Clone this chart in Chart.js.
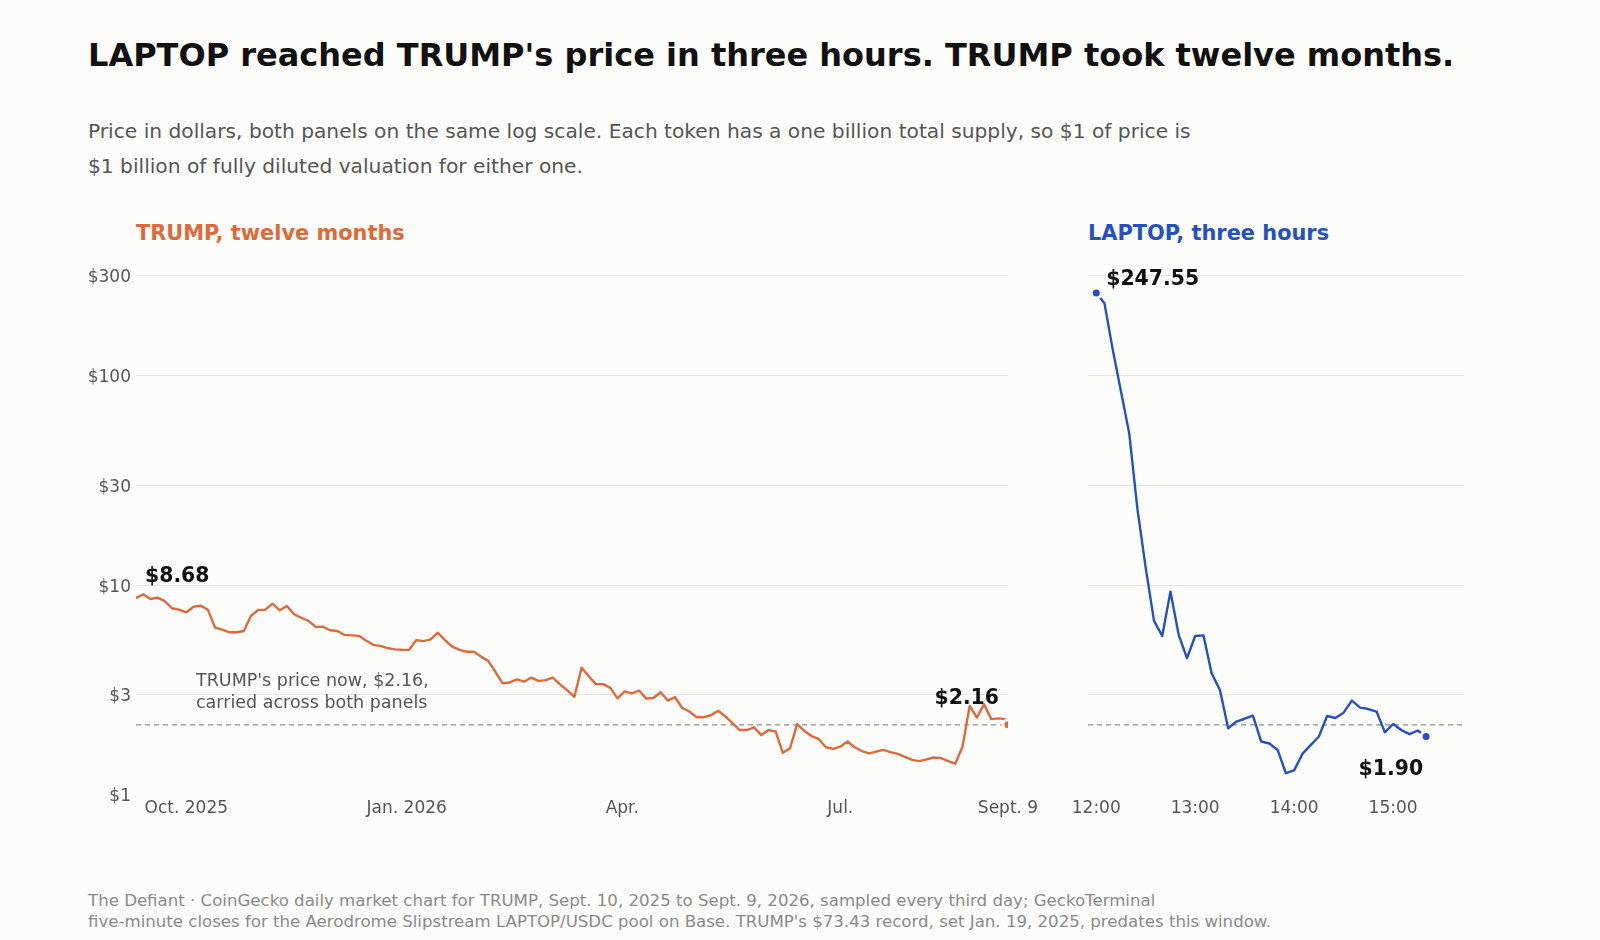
<!DOCTYPE html>
<html>
<head>
<meta charset="utf-8">
<script src="https://cdn.jsdelivr.net/npm/chart.js@4.4.1/dist/chart.umd.min.js"></script>
<style>
  html, body { margin: 0; padding: 0; background: #fcfcfa; }
  body { width: 1600px; height: 940px; position: relative; overflow: hidden; font-family: "DejaVu Sans", sans-serif; }
  .txt { position: absolute; left: 88px; white-space: nowrap; }
  #title { top: 37px; font-size: 32px; line-height: 36px; font-weight: bold; color: #111; }
  #subtitle { top: 114px; font-size: 20.2px; line-height: 34.6px; color: #555; }
  .panel { top: 221px; font-size: 20.9px; line-height: 24px; font-weight: bold; }
  #footer { top: 890px; font-size: 16.6px; line-height: 21px; color: #8a8a8a; }
  canvas { position: absolute; top: 240px; }
</style>
</head>
<body>
<div id="title" class="txt">LAPTOP reached TRUMP's price in three hours. TRUMP took twelve months.</div>
<div id="subtitle" class="txt">Price in dollars, both panels on the same log scale. Each token has a one billion total supply, so $1 of price is<br>$1 billion of fully diluted valuation for either one.</div>
<div class="txt panel" style="left:136px;color:#dc6a3b">TRUMP, twelve months</div>
<div class="txt panel" style="left:1088px;color:#2450c2">LAPTOP, three hours</div>
<canvas id="trump" width="1050" height="600" style="left:0"></canvas>
<canvas id="laptop" width="460" height="600" style="left:1040px"></canvas>
<div id="footer" class="txt">The Defiant · CoinGecko daily market chart for TRUMP, Sept. 10, 2025 to Sept. 9, 2026, sampled every third day; GeckoTerminal<br>five-minute closes for the Aerodrome Slipstream LAPTOP/USDC pool on Base. TRUMP's $73.43 record, set Jan. 19, 2025, predates this window.</div>
<script>
// TRUMP, one close every third day from Sept. 10, 2025
const trumpPrices = [
  8.68, 9.06, 8.60, 8.73, 8.40, 7.77, 7.65, 7.43, 7.90, 8.00,
  7.65, 6.28, 6.14, 5.97, 5.97, 6.05, 7.16, 7.62, 7.65, 8.17,
  7.60, 7.97, 7.27, 7.00, 6.76, 6.33, 6.35, 6.10, 6.05, 5.80,
  5.77, 5.74, 5.45, 5.20, 5.14, 5.02, 4.95, 4.93, 4.92, 5.48,
  5.42, 5.52, 5.94, 5.48, 5.10, 4.92, 4.82, 4.82, 4.57, 4.36,
  3.87, 3.41, 3.44, 3.56, 3.47, 3.63, 3.50, 3.53, 3.63, 3.37,
  3.16, 2.94, 4.05, 3.68, 3.38, 3.38, 3.24, 2.89, 3.12, 3.05,
  3.15, 2.88, 2.90, 3.09, 2.82, 2.93, 2.60, 2.50, 2.35, 2.35,
  2.40, 2.52, 2.37, 2.20, 2.04, 2.04, 2.10, 1.93, 2.04, 2.01,
  1.59, 1.67, 2.18, 2.02, 1.91, 1.85, 1.69, 1.66, 1.70, 1.80,
  1.69, 1.62, 1.58, 1.61, 1.64, 1.60, 1.57, 1.52, 1.47, 1.45,
  1.48, 1.51, 1.50, 1.45, 1.41, 1.70, 2.66, 2.34, 2.71, 2.30,
  2.32, 2.30
];
const trumpNow = 2.16;
const trumpNowDay = 364;
const trumpTickDays = [21, 113, 203, 294, 364];
const trumpTickLabels = ["Oct. 2025", "Jan. 2026", "Apr.", "Jul.", "Sept. 9"];

// LAPTOP, five-minute closes from 12:00
const laptopPrices = [
  247.55, 221, 133, 84, 53, 23, 12.1, 6.78, 5.73, 9.33,
  5.80, 4.49, 5.73, 5.77, 3.80, 3.17, 2.08, 2.24, 2.31, 2.39,
  1.80, 1.76, 1.64, 1.27, 1.31, 1.57, 1.73, 1.90, 2.38, 2.33,
  2.47, 2.82, 2.61, 2.57, 2.50, 1.99, 2.18, 2.04, 1.95, 2.03,
  1.90
];
const laptopTickMinutes = [0, 60, 120, 180];
const laptopTickLabels = ["12:00", "13:00", "14:00", "15:00"];

const priceTicks = [1, 3, 10, 30, 100, 300];

const ORANGE = "#dc6a3b";
const BLUE = "#2450c2";
const BG = "#fcfcfa";

const trumpDays = trumpPrices.map((p, i) => i * 3);
const laptopMinutes = laptopPrices.map((p, i) => i * 5);

Chart.defaults.font.family = "'DejaVu Sans', sans-serif";

function priceAxis(showLabels, width) {
    return {
        type: "logarithmic",
        min: 1,
        max: 300,
        afterBuildTicks: (s) => { s.ticks = priceTicks.map((v) => ({value: v})); },
        afterFit: (s) => { s.width = width; s.paddingTop = 0; s.paddingBottom = 0; },
        border: {display: false},
        grid: {
            color: (c) => (c.tick && c.tick.value === 1 ? "rgba(0,0,0,0)" : "#e4e4e2"),
            lineWidth: 1,
            drawTicks: false,
        },
        ticks: {display: showLabels, padding: 5, labelOffset: 2, autoSkip: false, color: "#555", font: {size: 17},
            callback: (v) => "$" + v},
    };
}

function timeAxis(min, max, tickVals, tickLabels) {
    return {
        type: "linear",
        min: min,
        max: max,
        afterBuildTicks: (s) => { s.ticks = tickVals.map((v) => ({value: v})); },
        afterFit: (s) => { s.height = 45; s.paddingLeft = 0; s.paddingRight = 0; },
        border: {display: false},
        grid: {display: false, drawTicks: false},
        ticks: {padding: 3, autoSkip: false, maxRotation: 0, color: "#555", font: {size: 17},
            callback: (v) => tickLabels[tickVals.indexOf(v)]},
    };
}

// dashed line at TRUMP's current price, on both panels
const nowLine = {
    id: "nowLine",
    beforeDatasetsDraw(chart) {
        const {ctx, chartArea: a} = chart;
        const py = chart.scales.y.getPixelForValue(trumpNow);
        ctx.save();
        ctx.strokeStyle = "#8c8c8c";
        ctx.lineWidth = 1.2;
        ctx.setLineDash([5, 4]);
        ctx.beginPath();
        ctx.moveTo(a.left, py);
        ctx.lineTo(a.right, py);
        ctx.stroke();
        ctx.restore();
    },
};

function label(ctx, text, x, y, align, font, color) {
    ctx.save();
    ctx.font = font;
    ctx.fillStyle = color;
    ctx.textAlign = align;
    ctx.textBaseline = "middle";
    ctx.fillText(text, x, y);
    ctx.restore();
}

const BOLD = "bold 20.4px 'DejaVu Sans'";
const NOTE = "17.5px 'DejaVu Sans'";

const trumpLabels = {
    id: "trumpLabels",
    afterDatasetsDraw(chart) {
        const {ctx, chartArea: a, scales: {x, y}} = chart;
        label(ctx, "$" + trumpPrices[0].toFixed(2), x.getPixelForValue(trumpDays[0]) + 9,
            y.getPixelForValue(trumpPrices[0]) - 21, "left", BOLD, "#111");
        label(ctx, "$" + trumpNow.toFixed(2), x.getPixelForValue(trumpNowDay) - 9,
            y.getPixelForValue(trumpNow) - 26, "right", BOLD, "#111");
        const ny = y.getPixelForValue(trumpNow);
        label(ctx, "TRUMP's price now, $" + trumpNow.toFixed(2) + ",", a.left + 60, ny - 43, "left", NOTE, "#555");
        label(ctx, "carried across both panels", a.left + 60, ny - 21.5, "left", NOTE, "#555");
    },
};

const laptopLabels = {
    id: "laptopLabels",
    afterDatasetsDraw(chart) {
        const {ctx, scales: {x, y}} = chart;
        const last = laptopPrices.length - 1;
        label(ctx, "$" + laptopPrices[0].toFixed(2), x.getPixelForValue(laptopMinutes[0]) + 10,
            y.getPixelForValue(laptopPrices[0]) - 13, "left", BOLD, "#111");
        label(ctx, "$" + laptopPrices[last].toFixed(2), x.getPixelForValue(laptopMinutes[last]) - 3,
            y.getPixelForValue(laptopPrices[last]) + 33, "right", BOLD, "#111");
    },
};

const common = {
    responsive: false,
    animation: false,
    devicePixelRatio: 1,
    plugins: {legend: {display: false}, tooltip: {enabled: false}},
};

const trumpLine = trumpDays.map((d, i) => ({x: d, y: trumpPrices[i]}));
trumpLine.push({x: trumpNowDay, y: trumpNow});

new Chart(document.getElementById("trump").getContext("2d"), {
    type: "line",
    data: {
        datasets: [
            {
                data: [{x: trumpNowDay, y: trumpNow}],
                showLine: false,
                pointRadius: 5,
                pointBorderWidth: 3,
                pointBorderColor: BG,
                pointBackgroundColor: ORANGE,
                clip: 0,
            },
            {
                data: trumpLine,
                borderColor: ORANGE,
                borderWidth: 2.4,
                borderJoinStyle: "round",
                pointRadius: 0,
                tension: 0,
            },
        ],
    },
    options: {
        ...common,
        layout: {padding: {top: 35.5, right: 42, bottom: 0, left: 0}},
        scales: {
            x: timeAxis(0, 364, trumpTickDays, trumpTickLabels),
            y: priceAxis(true, 136),
        },
    },
    plugins: [nowLine, trumpLabels],
});

const laptopLine = laptopMinutes.map((m, i) => ({x: m, y: laptopPrices[i]}));
const lastIdx = laptopPrices.length - 1;

new Chart(document.getElementById("laptop").getContext("2d"), {
    type: "line",
    data: {
        datasets: [
            {
                data: [
                    {x: laptopMinutes[0], y: laptopPrices[0]},
                    {x: laptopMinutes[lastIdx], y: laptopPrices[lastIdx]},
                ],
                showLine: false,
                pointRadius: 5,
                pointBorderWidth: 3,
                pointBorderColor: BG,
                pointBackgroundColor: BLUE,
            },
            {
                data: laptopLine,
                borderColor: BLUE,
                borderWidth: 2.4,
                borderJoinStyle: "round",
                pointRadius: 0,
                tension: 0,
            },
        ],
    },
    options: {
        ...common,
        layout: {padding: {top: 35.5, right: 36, bottom: 0, left: 0}},
        scales: {
            x: timeAxis(-5, 223, laptopTickMinutes, laptopTickLabels),
            y: priceAxis(false, 48),
        },
    },
    plugins: [nowLine, laptopLabels],
});
</script>
</body>
</html>
